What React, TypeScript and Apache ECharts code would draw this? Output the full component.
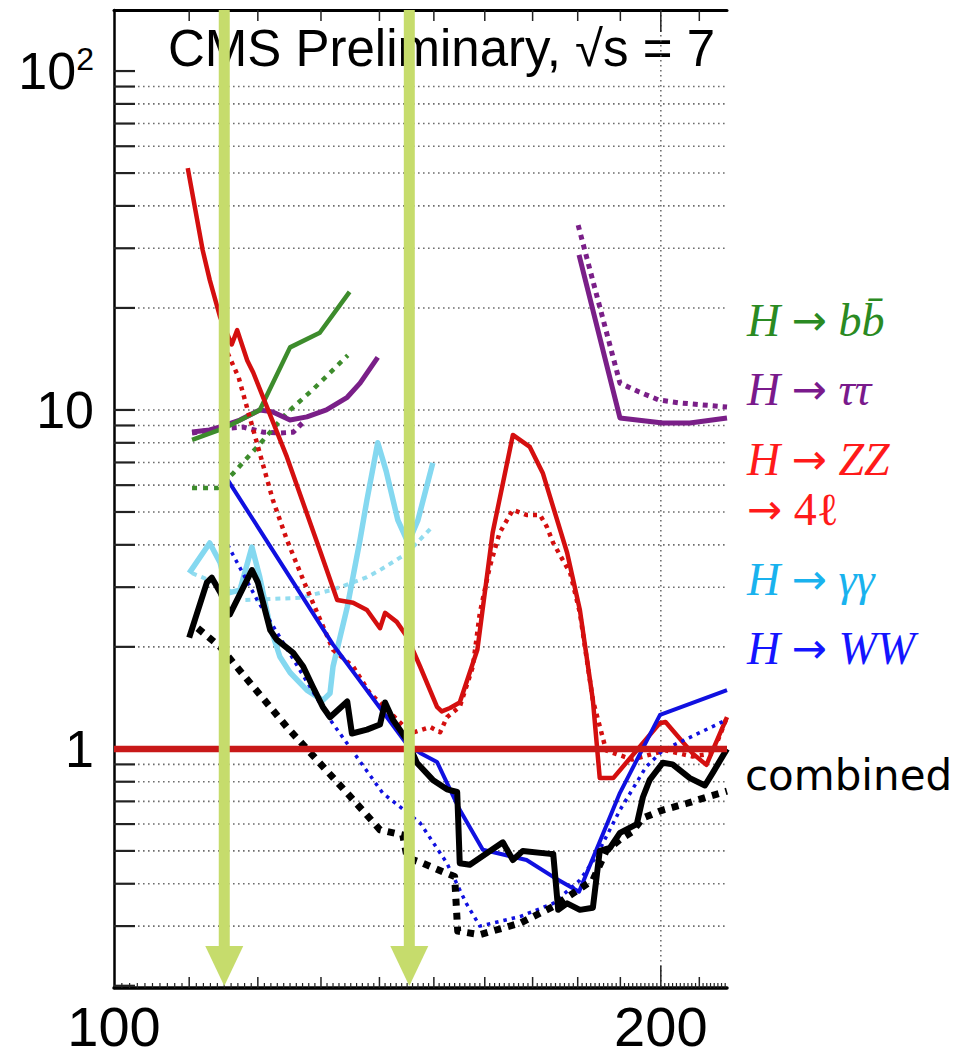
import React, { useEffect, useRef } from 'react';
import * as echarts from 'echarts';

// axis ranges (Higgs mass in GeV, log x; ratio to SM, log y)
const X_MIN = 100;
const X_MAX = 217.5;
const Y_MIN = 0.197;
const Y_MAX = 151.4;

const X_LABELS = [100, 200];
const Y_LABELS: Record<number, string> = { 2: '10{sup|2}', 1: '10', 0: '1' };
const X_MAJOR_TICKS = [110, 120, 130, 140, 150, 160, 170, 180, 190, 200, 210];
const X_GRID = [200];
const Y_GRID = [0.3, 0.4, 0.5, 0.6, 0.7, 0.8, 0.9, 2, 3, 4, 5, 6, 7, 8, 9, 10, 20, 30, 40, 50, 60, 70, 80, 90];
const Y_TICKS = [0.2, 0.3, 0.4, 0.5, 0.6, 0.7, 0.8, 0.9, 1, 2, 3, 4, 5, 6, 7, 8, 9, 10, 20, 30, 40, 50, 60, 70, 80, 90, 100];
const ARROW_MASSES = [115, 145.4];
const SM_RATIO = 1;

// combined
const combinedObs = [[110, 2.13], [112.5, 3.1], [113.2, 3.2], [114.4, 2.9], [115.8, 2.49], [119.1, 3.37], [120, 3.1], [121.9, 2.24], [122.9, 2.1], [125.5, 1.92], [127.1, 1.75], [128.7, 1.52], [130.3, 1.33], [131.5, 1.24], [134.4, 1.38], [135.2, 1.11], [137.8, 1.14], [140.1, 1.18], [141, 1.37], [142.4, 1.22], [145, 1.06], [146.8, 0.91], [149.8, 0.81], [152.5, 0.76], [154.5, 0.746], [155, 0.46], [157, 0.455], [163.7, 0.53], [165.8, 0.47], [167.9, 0.5], [173.8, 0.49], [174.5, 0.49], [175.6, 0.335], [177.6, 0.35], [180.5, 0.335], [183.5, 0.34], [185.1, 0.5], [187.5, 0.51], [189.9, 0.565], [194, 0.6], [195.5, 0.72], [197.2, 0.81], [200.5, 0.91], [203, 0.9], [207.5, 0.82], [211.5, 0.78], [213.6, 0.85], [217.5, 1.0]];
const combinedExp = [[111.2, 2.27], [114.4, 2.0], [124.5, 1.16], [134.4, 0.74], [137, 0.66], [140.1, 0.577], [144.2, 0.557], [145, 0.477], [147.9, 0.46], [151.7, 0.434], [154, 0.42], [154.6, 0.29], [159, 0.283], [167.3, 0.306], [174.4, 0.342], [183.5, 0.41], [186.6, 0.5], [189.9, 0.54], [192.9, 0.57], [195.5, 0.625], [200.5, 0.66], [206.6, 0.69], [211.9, 0.72], [217.5, 0.75]];
// H -> WW
const wwObs = [[115.5, 6.22], [132, 2.03], [145, 1.03], [147.4, 0.973], [150.6, 0.915], [155, 0.661], [159.6, 0.504], [168.7, 0.47], [174.5, 0.419], [180.3, 0.379], [189.9, 0.742], [199.8, 1.26], [217.5, 1.49]];
const wwExp = [[115.5, 4.0], [119.9, 2.75], [131.5, 1.22], [140.6, 0.74], [147.4, 0.605], [152.5, 0.46], [156.3, 0.35], [159, 0.3], [167.3, 0.32], [174.5, 0.35], [180.5, 0.41], [184.2, 0.48], [189.9, 0.66], [196.3, 0.885], [200.5, 0.99], [217.5, 1.22]];
// H -> ZZ -> 4l
const zzObs = [[109.8, 51.7], [111.9, 29.6], [112.9, 24.2], [114.4, 18.8], [116.1, 15.6], [116.9, 17.2], [118.4, 14.0], [119.3, 12.9], [124.5, 7.27], [129.8, 3.86], [132.7, 2.75], [135.4, 2.7], [137.8, 2.57], [140.1, 2.27], [141, 2.52], [143.1, 2.37], [145, 2.14], [147.4, 1.75], [150.6, 1.33], [151.5, 1.29], [153.1, 1.32], [155, 1.37], [158.5, 1.96], [161.6, 4.34], [165.8, 8.44], [169.4, 7.78], [172.2, 6.52], [177.6, 3.79], [180.5, 2.57], [183.5, 1.39], [185.1, 0.82], [188.3, 0.82], [199.7, 1.19], [201.2, 1.2], [208.2, 0.97], [211.9, 0.897], [217.5, 1.24]];
const zzExp = [[115.5, 14.7], [117.1, 12.5], [122.3, 5.43], [124.5, 4.14], [127.3, 3.09], [132, 1.96], [135.4, 1.75], [138.3, 1.46], [141.9, 1.28], [145, 1.14], [146.3, 1.12], [149.3, 1.16], [151.2, 1.12], [152.5, 1.24], [155, 1.33], [157.6, 1.75], [159, 2.52], [161, 3.44], [163, 4.33], [165.8, 5.07], [168.7, 4.9], [171.6, 4.9], [173.1, 4.52], [174.5, 4.05], [178.3, 3.3], [180.5, 2.52], [183.5, 1.39], [186.6, 0.99], [192.9, 0.93], [201.2, 0.99], [208.2, 0.95], [213.6, 0.97], [217.5, 1.24]];
// H -> tautau
const ttObsLow = [[110.4, 8.61], [112.9, 8.73], [114.4, 8.92], [117.3, 9.34], [120.3, 10.0], [122.3, 9.87], [125, 9.34], [127.7, 9.54], [130.9, 10.0], [134.4, 10.9], [136.6, 12.0], [139.7, 14.3]];
const ttExpLow = [[110.4, 8.55], [114.4, 8.8], [117.8, 8.9], [120.8, 8.6], [123.4, 8.55], [125.5, 8.6], [127.1, 9.2]];
const ttObsHigh = [[180.3, 28.7], [189.9, 9.47], [200.5, 9.15], [207.5, 9.15], [217.5, 9.47]];
const ttExpHigh = [[180.1, 35.1], [189.9, 12.0], [194.6, 11.3], [199.5, 10.7], [204.5, 10.5], [217.5, 10.2]];
// H -> bb
const bbObs = [[110.4, 8.16], [115.1, 8.85], [120.3, 10.0], [125, 15.3], [129.8, 16.9], [134.8, 22.3]];
const bbExp = [[110.4, 5.89], [114.1, 5.89], [116.3, 6.5], [119.9, 7.78], [124.5, 9.8], [128.7, 11.5], [134.5, 14.5]];
// H -> gamma gamma
const ggObs = [[110, 3.3], [112.9, 4.05], [114.4, 3.54], [115.5, 2.88], [117.3, 2.94], [119.1, 3.94], [120.3, 3.21], [121.9, 2.29], [123.4, 1.87], [125, 1.68], [127.7, 1.49], [130.3, 1.39], [131.5, 1.46], [132, 1.75], [134.4, 2.62], [136.6, 4.14], [137.8, 5.43], [139.7, 8.0], [141.2, 6.6], [143.3, 4.73], [145.2, 4.05], [147, 4.73], [149.8, 6.98]];
const ggExp = [[110.4, 3.3], [114.4, 3.05], [118, 2.75], [126.6, 2.79], [132, 2.95], [137.8, 3.21], [140.1, 3.37], [145, 3.78], [149.5, 4.49]];

const C_GREEN = '#3d8c2c';
const C_PURPLE = '#7a1f88';
const C_RED = '#d40f0f';
const C_CYAN = '#84d8f0';
const C_BLUE = '#1010e0';
const C_ARROW = '#c6dc6c';

const SERIF = "'Liberation Serif', 'DejaVu Serif', serif";
const SANS = "'Liberation Sans', Arial, sans-serif";

function lineSeries(name: string, data: number[][], color: string, width: number, dash: any, z: number) {
  return {
    type: 'line',
    name,
    data,
    symbol: 'none',
    silent: true,
    z,
    lineStyle: { color, width, type: dash || 'solid', cap: 'butt', join: 'round' },
  };
}

function buildOption() {
  const xMinorTicks: number[] = [];
  for (let m = 101; m <= 217; m++) if (m % 10 !== 0) xMinorTicks.push(m);

  const legendRich = (color: string) => ({
    i: { fontFamily: SERIF, fontStyle: 'italic', fontSize: 46, fill: color, color },
    a: { fontFamily: "'DejaVu Sans', sans-serif", fontSize: 42, fill: color, color },
    n: { fontFamily: SERIF, fontSize: 46, fill: color, color },
  });
  const legendText = (text: string, color: string, y: number) => ({
    type: 'text',
    x: 747,
    y,
    style: {
      text,
      fill: color,
      align: 'left',
      verticalAlign: 'middle',
      fontFamily: SERIF,
      fontSize: 46,
      rich: legendRich(color),
    },
  });

  return {
    animation: false,
    backgroundColor: '#ffffff',
    grid: { left: 114, right: 249, top: 10, bottom: 70, containLabel: false },
    xAxis: [
      {
        type: 'log',
        min: X_MIN,
        max: X_MAX,
        logBase: 10,
        axisLine: { show: true, onZero: false, lineStyle: { color: '#000', width: 3.5 } },
        axisTick: { show: false },
        splitLine: { show: false },
        minorTick: { show: false },
        axisLabel: {
          show: true,
          customValues: X_LABELS,
          formatter: (v: number) => String(Math.round(v)),
          fontFamily: SANS,
          fontSize: 56,
          color: '#000',
          margin: 10,
        },
      },
      {
        type: 'log',
        position: 'top',
        min: X_MIN,
        max: X_MAX,
        axisLine: { show: true, onZero: false, lineStyle: { color: '#000', width: 3 } },
        axisTick: { show: false },
        axisLabel: { show: false },
        splitLine: { show: false },
      },
    ],
    yAxis: {
      type: 'log',
      min: Y_MIN,
      max: Y_MAX,
      logBase: 10,
      axisLine: { show: true, onZero: false, lineStyle: { color: '#000', width: 2.5 } },
      axisTick: { show: false },
      splitLine: { show: false },
      axisLabel: {
        show: true,
        showMinLabel: false,
        showMaxLabel: false,
        fontFamily: SANS,
        fontSize: 52,
        color: '#000',
        margin: 20,
        formatter: (v: number) => {
          const l = Math.log10(v);
          const r = Math.round(l);
          if (Math.abs(l - r) > 1e-6) return '';
          return Y_LABELS[r] ?? '';
        },
        rich: {
          sup: { fontFamily: SANS, fontSize: 32, verticalAlign: 'top', padding: [0, 0, 24, 0] },
        },
      },
    },
    graphic: [
      {
        type: 'text',
        x: 168,
        y: 48,
        style: {
          text: 'CMS Preliminary, √s = 7',
          fontFamily: SANS,
          fontSize: 51,
          fill: '#000',
          align: 'left',
          verticalAlign: 'middle',
        },
      },
      legendText('{i|H} {a|→} {i|bb̄}', '#2a8a22', 320),
      legendText('{i|H} {a|→} {i|ττ}', '#7a1a8c', 389),
      legendText('{i|H} {a|→} {i|ZZ}', '#ff1a1a', 459),
      legendText('{a|→} {n|4ℓ}', '#ff1a1a', 509),
      legendText('{i|H} {a|→} {i|γγ}', '#19b2ee', 579),
      legendText('{i|H} {a|→} {i|WW}', '#1414ff', 648),
      {
        type: 'text',
        x: 745,
        y: 775,
        style: {
          text: 'combined',
          fontFamily: "'DejaVu Sans', sans-serif",
          fontSize: 42,
          fill: '#000',
          align: 'left',
          verticalAlign: 'middle',
        },
      },
    ],
    series: [
      // horizontal dotted grid
      {
        type: 'custom',
        silent: true,
        z: 1,
        clip: false,
        data: Y_GRID.map((v) => [X_MIN, v]),
        renderItem: (params: any, api: any) => {
          const cs = params.coordSys;
          const y = api.coord([X_MIN, api.value(1)])[1];
          return {
            type: 'line',
            shape: { x1: cs.x + 24, y1: y, x2: cs.x + cs.width, y2: y },
            style: { stroke: '#6e6e6e', lineWidth: 1.6, lineDash: [1.6, 3.4] },
          };
        },
      },
      // vertical dotted grid
      {
        type: 'custom',
        silent: true,
        z: 1,
        clip: false,
        data: X_GRID.map((m) => [m, Y_MIN]),
        renderItem: (params: any, api: any) => {
          const cs = params.coordSys;
          const x = api.coord([api.value(0), Y_MIN])[0];
          return {
            type: 'line',
            shape: { x1: x, y1: cs.y, x2: x, y2: cs.y + cs.height },
            style: { stroke: '#6e6e6e', lineWidth: 1.6, lineDash: [1.6, 3.4] },
          };
        },
      },
      // y ticks (left)
      {
        type: 'custom',
        silent: true,
        z: 2,
        clip: false,
        data: Y_TICKS.map((v) => [X_MIN, v]),
        renderItem: (params: any, api: any) => {
          const cs = params.coordSys;
          const y = api.coord([X_MIN, api.value(1)])[1];
          return {
            type: 'line',
            shape: { x1: cs.x, y1: y, x2: cs.x + 21, y2: y },
            style: { stroke: '#222', lineWidth: 2.2 },
          };
        },
      },
      // x major ticks (bottom and top)
      {
        type: 'custom',
        silent: true,
        z: 2,
        clip: false,
        data: X_MAJOR_TICKS.map((m) => [m, Y_MIN]),
        renderItem: (params: any, api: any) => {
          const cs = params.coordSys;
          const m = api.value(0);
          const x = api.coord([m, Y_MIN])[0];
          const len = m === 200 ? 22 : 11;
          const bottom = cs.y + cs.height;
          return {
            type: 'group',
            children: [
              { type: 'line', shape: { x1: x, y1: bottom, x2: x, y2: bottom - len }, style: { stroke: '#222', lineWidth: 1.5 } },
              { type: 'line', shape: { x1: x, y1: cs.y, x2: x, y2: cs.y + len }, style: { stroke: '#222', lineWidth: 1.5 } },
            ],
          };
        },
      },
      // x minor ticks (bottom)
      {
        type: 'custom',
        silent: true,
        z: 2,
        clip: false,
        data: xMinorTicks.map((m) => [m, Y_MIN]),
        renderItem: (params: any, api: any) => {
          const cs = params.coordSys;
          const x = api.coord([api.value(0), Y_MIN])[0];
          const bottom = cs.y + cs.height;
          return {
            type: 'line',
            shape: { x1: x, y1: bottom, x2: x, y2: bottom - 5 },
            style: { stroke: '#222', lineWidth: 1.2 },
          };
        },
      },
      lineSeries('H→γγ expected', ggExp, '#92dcef', 4, [5, 5], 3),
      lineSeries('H→γγ', ggObs, C_CYAN, 5.5, 'solid', 3),
      lineSeries('H→ττ expected', ttExpLow, C_PURPLE, 5, [5, 5], 3),
      lineSeries('H→ττ expected high', ttExpHigh, C_PURPLE, 5, [5, 5], 3),
      lineSeries('H→bb expected', bbExp, C_GREEN, 4.5, [5, 6], 3),
      lineSeries('H→ττ', ttObsLow, C_PURPLE, 5, 'solid', 4),
      lineSeries('H→ττ high', ttObsHigh, C_PURPLE, 5, 'solid', 4),
      lineSeries('H→bb', bbObs, C_GREEN, 4.5, 'solid', 4),
      lineSeries('H→ZZ expected', zzExp, C_RED, 4.5, [4, 5], 4),
      lineSeries('H→ZZ', zzObs, C_RED, 4.5, 'solid', 4),
      lineSeries('H→WW expected', wwExp, C_BLUE, 3.5, [3.5, 5], 5),
      lineSeries('H→WW', wwObs, C_BLUE, 4, 'solid', 5),
      lineSeries('combined expected', combinedExp, '#000', 7, [7, 7], 6),
      lineSeries('combined', combinedObs, '#000', 6, 'solid', 6),
      lineSeries('SM', [[X_MIN, SM_RATIO], [X_MAX, SM_RATIO]], '#c81818', 6.5, 'solid', 7),
      // arrows
      {
        type: 'custom',
        silent: true,
        z: 8,
        clip: false,
        data: ARROW_MASSES.map((m) => [m, Y_MIN]),
        renderItem: (params: any, api: any) => {
          const cs = params.coordSys;
          const x = api.coord([api.value(0), Y_MIN])[0];
          const top = cs.y;
          const bottom = cs.y + cs.height;
          return {
            type: 'group',
            children: [
              { type: 'rect', shape: { x: x - 5.5, y: top, width: 11, height: bottom - top - 41 }, style: { fill: C_ARROW } },
              { type: 'polygon', shape: { points: [[x - 19, bottom - 42], [x + 19, bottom - 42], [x, bottom - 2]] }, style: { fill: C_ARROW } },
            ],
          };
        },
      },
    ],
  };
}

export default function App() {
  const ref = useRef<HTMLDivElement>(null);
  useEffect(() => {
    if (!ref.current) return;
    const chart = echarts.init(ref.current, null, { renderer: 'svg' });
    chart.setOption(buildOption() as any);
    return () => chart.dispose();
  }, []);
  return (
    <div
      ref={ref}
      style={{ position: 'absolute', left: 0, top: 0, width: 976, height: 1058, background: '#fff' }}
    />
  );
}
